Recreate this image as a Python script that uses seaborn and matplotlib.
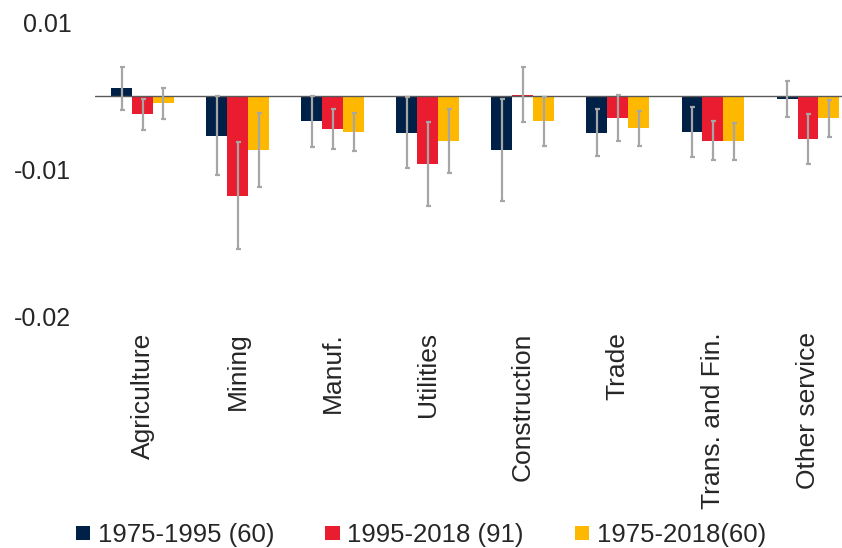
import numpy as np
import pandas as pd
import matplotlib
matplotlib.use("Agg")
import matplotlib.pyplot as plt
import seaborn as sns

# ---------- Data ----------
sectors = ["Agriculture", "Mining", "Manuf.", "Utilities", "Construction",
           "Trade", "Trans. and Fin.", "Other service"]
periods = ["1975-1995 (60)", "1995-2018 (91)", "1975-2018(60)"]

vals_75_95 = [0.0005, -0.0027, -0.00174, -0.0025, -0.00368, -0.0025, -0.00244, -0.00023]
err_75_95 = [0.00145, 0.0027, 0.00175, 0.0024, 0.00344, 0.0016, 0.00168, 0.0012]
vals_95_18 = [-0.00124, -0.00678, -0.00224, -0.00463, 0.00007, -0.00151, -0.00305, -0.00294]
err_95_18 = [0.00105, 0.00364, 0.00134, 0.00283, 0.00187, 0.00156, 0.00133, 0.00168]
vals_75_18 = [-0.00052, -0.00368, -0.00244, -0.00305, -0.00174, -0.00221, -0.0031, -0.00154]
err_75_18 = [0.00104, 0.00253, 0.00128, 0.00218, 0.00164, 0.0012, 0.00127, 0.00123]

# tick positions and the labels the original chart shows for them
ytick_pos = [0.005, -0.005, -0.015]
ytick_labels = ["0.01", "-0.01", "-0.02"]

colors = ["#002147", "#EA1C2F", "#FFB800"]
err_color = "#A6A6A6"

# ---------- Long table for seaborn ----------
all_vals = [vals_75_95, vals_95_18, vals_75_18]
all_errs = [err_75_95, err_95_18, err_75_18]
df = pd.DataFrame({
    "sector": sectors * 3,
    "period": np.repeat(periods, len(sectors)),
    "value": np.concatenate(all_vals),
})

# ---------- Plot ----------
sns.set_style("white")
plt.rcParams["font.family"] = ["Liberation Sans", "DejaVu Sans"]

fig = plt.figure(figsize=(8.42, 5.48), dpi=100)
# axes run slightly past the right edge, as in the original
ax = fig.add_axes([95 / 842, (548 - 317) / 548, 760.5 / 842, 295 / 548])

sns.barplot(data=df, x="sector", y="value", hue="period", hue_order=periods,
            order=sectors, palette=colors, width=0.66, saturation=1,
            errorbar=None, linewidth=0, ax=ax)

# error bars centred on each bar
for container, errs in zip(ax.containers, all_errs):
    xs = [b.get_x() + b.get_width() / 2 for b in container]
    ys = [b.get_height() for b in container]
    ax.errorbar(xs, ys, yerr=errs, fmt="none", ecolor=err_color,
                elinewidth=1.6, capsize=1.8, capthick=1.6, zorder=3)

ax.axhline(0, color="#595959", lw=1, zorder=2)

ax.set_xlim(-0.5, len(sectors) - 0.5)
ax.set_ylim(-0.015, 0.005)
ax.set_yticks(ytick_pos)
ax.set_yticklabels(ytick_labels)
ax.set_xlabel("")
ax.set_ylabel("")
ax.tick_params(axis="y", length=0, pad=17, labelsize=18)
ax.tick_params(axis="x", length=0, pad=11, labelsize=19, labelrotation=90)
for s in ax.spines.values():
    s.set_visible(False)

handles, labels = ax.get_legend_handles_labels()
if ax.get_legend() is not None:
    ax.get_legend().remove()
fig.legend(handles, labels, loc="center", bbox_to_anchor=(0.5, 13 / 548),
           ncol=3, frameon=False, fontsize=18.5, handlelength=0.55,
           handleheight=0.5, handletextpad=0.3, columnspacing=2.0,
           borderaxespad=0)

fig.savefig("out.png", dpi=100)
